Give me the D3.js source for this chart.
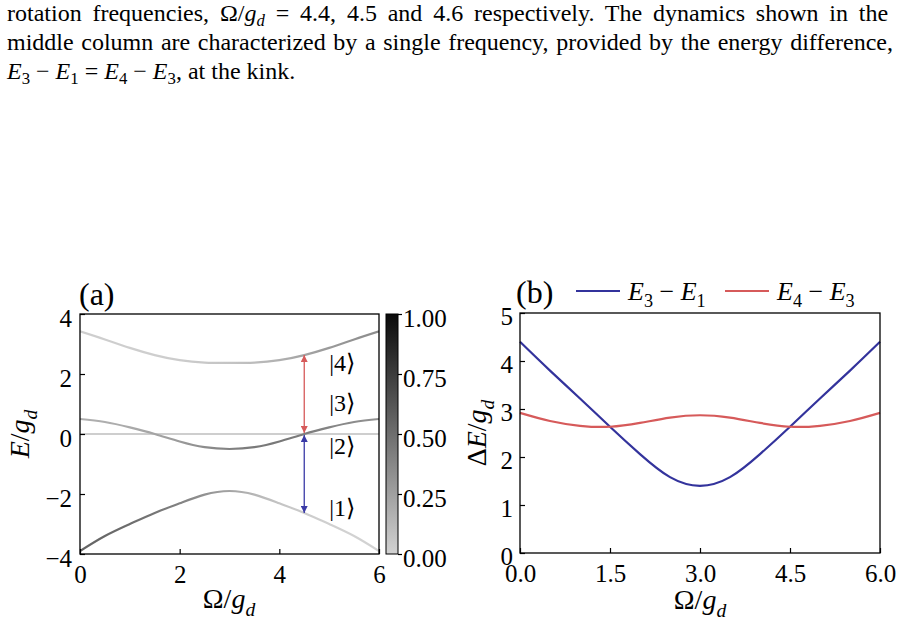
<!DOCTYPE html>
<html>
<head>
<meta charset="utf-8">
<script src="https://cdn.jsdelivr.net/npm/d3@7"></script>
<style>
    body { margin: 0; background: #fff; }
    svg text { font-family: "Liberation Serif", "DejaVu Serif", serif; fill: #000; }
    .tick text { font-size: 25px; }
    .tick line { stroke: #000; stroke-width: 1.2px; }
</style>
</head>
<body>
<svg id="figure" width="902" height="625"></svg>
<script>
const omega = [0, 0.5, 1, 1.5, 2, 2.5, 3, 3.5, 4, 4.5, 5, 5.5, 6];

const energy1 = [-3.90, -3.40, -3.00, -2.63, -2.31, -2.02, -1.90, -2.02, -2.31, -2.63, -3.00, -3.40, -3.90];
const energy2 = [0, 0, 0, 0, 0, 0, 0, 0, 0, 0, 0, 0, 0];
const energy3 = [0.50, 0.40, 0.22, 0.00, -0.25, -0.44, -0.50, -0.44, -0.25, 0.00, 0.22, 0.40, 0.50];
const energy4 = [3.42, 3.15, 2.87, 2.63, 2.46, 2.38, 2.37, 2.38, 2.46, 2.63, 2.87, 3.15, 3.42];

// grey level of each curve (colorbar value)
const weight1 = [0.55, 0.53, 0.50, 0.46, 0.40, 0.32, 0.23, 0.14, 0.07, 0.03, 0.01, 0.00, 0.00];
const weight2 = [0.02, 0.02, 0.02, 0.02, 0.02, 0.02, 0.02, 0.02, 0.02, 0.02, 0.02, 0.02, 0.02];
const weight3 = [0.18, 0.18, 0.20, 0.23, 0.28, 0.35, 0.40, 0.44, 0.45, 0.43, 0.39, 0.35, 0.32];
const weight4 = [0.02, 0.02, 0.02, 0.02, 0.03, 0.05, 0.07, 0.11, 0.17, 0.23, 0.28, 0.32, 0.35];

// energy gaps, panel (b)
const gap31 = [4.40, 3.80, 3.22, 2.63, 2.06, 1.58, 1.40, 1.58, 2.06, 2.63, 3.22, 3.80, 4.40];
const gap43 = [2.92, 2.75, 2.65, 2.63, 2.71, 2.82, 2.87, 2.82, 2.71, 2.63, 2.65, 2.75, 2.92];

// ticks
const energyTicks = [-4, -2, 0, 2, 4];
const omegaTicksA = [0, 2, 4, 6];
const omegaTicksB = [0, 1.5, 3, 4.5, 6];
const gapTicks = [0, 1, 2, 3, 4, 5];
const colorbarTicks = [0, 0.25, 0.5, 0.75, 1];

// annotations in panel (a)
const arrowIndex = 9; // Omega = 4.5
const stateNames = ["1", "2", "3", "4"];
const stateLabelE = [-2.74, -0.68, 0.76, 2.09];
const stateLabelOmega = 5.0;

// text made of pieces: [text, style], style n = normal, i = italic, s = subscript, si = italic subscript
function richText(sel, parts, size, subShift = 0.28) {
    let shift = 0;
    parts.forEach(([t, s]) => {
        const sub = s === "s" || s === "si";
        const target = sub ? size * subShift : 0;
        sel.append("tspan")
            .attr("dy", target - shift)
            .attr("font-size", sub ? size * 0.7 : size)
            .attr("font-style", (s === "i" || s === "si") ? "italic" : "normal")
            .text(t);
        shift = target;
    });
    return sel;
}

const omegaLabel = [["Ω/", "n"], ["g", "i"], ["d", "si"]];

class EnergyLevelsVis {

    constructor(svg) {
        this.svg = svg;
        this.initVis();
    }

    initVis() {
        let vis = this;

        vis.left = 80; vis.right = 379; vis.top = 314; vis.bottom = 554;

        vis.x = d3.scaleLinear().domain([0, 6]).range([vis.left, vis.right]);
        vis.y = d3.scaleLinear().domain([-4, 4]).range([vis.bottom, vis.top]);
        vis.color = d3.scaleLinear().domain([0, 1]).range(["#d2d2d2", "#0a0a0a"]);

        vis.defs = vis.svg.append("defs");
        vis.defs.append("clipPath").attr("id", "clip-a")
            .append("rect")
            .attr("x", vis.left).attr("y", vis.top)
            .attr("width", vis.right - vis.left).attr("height", vis.bottom - vis.top);

        vis.levels = [
            { id: "e1", energy: energy1, weight: weight1 },
            { id: "e2", energy: energy2, weight: weight2 },
            { id: "e3", energy: energy3, weight: weight3 },
            { id: "e4", energy: energy4, weight: weight4 }
        ];

        vis.updateVis();
    }

    updateVis() {
        let vis = this;

        // horizontal gradient per level, one stop per sample
        vis.levels.forEach(lv => {
            let grad = vis.defs.append("linearGradient")
                .attr("id", "grad-" + lv.id)
                .attr("gradientUnits", "userSpaceOnUse")
                .attr("x1", vis.x(0)).attr("x2", vis.x(6))
                .attr("y1", 0).attr("y2", 0);
            grad.selectAll("stop")
                .data(lv.weight)
                .enter().append("stop")
                .attr("offset", (d, i) => (vis.x(omega[i]) - vis.x(0)) / (vis.x(6) - vis.x(0)))
                .attr("stop-color", d => vis.color(d));
        });

        let line = d3.line()
            .x((d, i) => vis.x(omega[i]))
            .y(d => vis.y(d))
            .curve(d3.curveNatural);

        vis.svg.append("g")
            .attr("clip-path", "url(#clip-a)")
            .selectAll(".level")
            .data(vis.levels)
            .enter().append("path")
            .attr("class", "level")
            .attr("d", d => line(d.energy))
            .attr("fill", "none")
            .attr("stroke", d => `url(#grad-${d.id})`)
            .attr("stroke-width", 2.2);

        // transition arrows at Omega = 4.5
        vis.makeArrowhead("head-red", "#d65a5a");
        vis.makeArrowhead("head-blue", "#3a3aa6");

        let xa = vis.x(omega[arrowIndex]);
        let arrows = [
            { from: energy3[arrowIndex], to: energy4[arrowIndex], color: "#d65a5a", head: "head-red" },
            { from: energy3[arrowIndex], to: energy1[arrowIndex], color: "#3a3aa6", head: "head-blue" }
        ];
        vis.svg.selectAll(".arrow")
            .data(arrows)
            .enter().append("line")
            .attr("class", "arrow")
            .attr("x1", xa).attr("x2", xa)
            .attr("y1", d => vis.y(d.from) + (d.to > d.from ? -1 : 1))
            .attr("y2", d => vis.y(d.to))
            .attr("stroke", d => d.color)
            .attr("stroke-width", 1.3)
            .attr("marker-start", d => `url(#${d.head})`)
            .attr("marker-end", d => `url(#${d.head})`);

        // state labels
        vis.svg.selectAll(".state")
            .data(stateNames)
            .enter().append("text")
            .attr("class", "state")
            .attr("x", vis.x(stateLabelOmega))
            .attr("y", (d, i) => vis.y(stateLabelE[i]))
            .style("font-size", "24px")
            .text(d => `|${d}⟩`);

        // axes, ticks pointing inward
        vis.svg.append("g")
            .attr("transform", `translate(0,${vis.bottom})`)
            .call(d3.axisBottom(vis.x).tickValues(omegaTicksA).tickFormat(d3.format("d"))
                .tickSizeInner(-5).tickSizeOuter(0).tickPadding(11))
            .call(g => g.select(".domain").remove());

        vis.svg.append("g")
            .attr("transform", `translate(${vis.left},0)`)
            .call(d3.axisLeft(vis.y).tickValues(energyTicks).tickFormat(d3.format("d"))
                .tickSizeInner(-5).tickSizeOuter(0).tickPadding(8))
            .call(g => g.select(".domain").remove())
            .call(g => g.selectAll(".tick text").attr("dy", "0.5em"));

        vis.svg.append("rect")
            .attr("x", vis.left).attr("y", vis.top)
            .attr("width", vis.right - vis.left).attr("height", vis.bottom - vis.top)
            .attr("fill", "none").attr("stroke", "#000").attr("stroke-width", 1.3);

        // colorbar
        let cbLeft = 386, cbRight = 398;
        let cbScale = d3.scaleLinear().domain([0, 1]).range([vis.bottom, vis.top]);
        let cbGrad = vis.defs.append("linearGradient")
            .attr("id", "grad-cb")
            .attr("x1", 0).attr("y1", 1).attr("x2", 0).attr("y2", 0);
        cbGrad.selectAll("stop")
            .data(colorbarTicks)
            .enter().append("stop")
            .attr("offset", d => d)
            .attr("stop-color", d => vis.color(d));

        vis.svg.append("rect")
            .attr("x", cbLeft).attr("y", vis.top)
            .attr("width", cbRight - cbLeft).attr("height", vis.bottom - vis.top)
            .attr("fill", "url(#grad-cb)")
            .attr("stroke", "#000").attr("stroke-width", 1);

        vis.svg.append("g")
            .attr("transform", `translate(${cbRight},0)`)
            .call(d3.axisRight(cbScale).tickValues(colorbarTicks).tickFormat(d3.format(".2f"))
                .tickSize(4).tickPadding(1))
            .call(g => g.select(".domain").remove())
            .call(g => g.selectAll(".tick text").attr("dy", "0.5em"));

        // labels
        vis.svg.append("text")
            .attr("x", vis.left - 1).attr("y", 305)
            .style("font-size", "32px")
            .text("(a)");

        richText(vis.svg.append("text")
            .attr("text-anchor", "middle")
            .attr("transform", `translate(229,608)`), omegaLabel, 28);

        richText(vis.svg.append("text")
            .attr("text-anchor", "middle")
            .attr("transform", `translate(29,${(vis.top + vis.bottom) / 2}) rotate(-90)`),
            [["E", "i"], ["/", "n"], ["g", "i"], ["d", "si"]], 28);
    }

    makeArrowhead(id, color) {
        this.defs.append("marker")
            .attr("id", id)
            .attr("viewBox", "0 0 10 10")
            .attr("refX", 10).attr("refY", 5)
            .attr("markerUnits", "userSpaceOnUse")
            .attr("markerWidth", 7).attr("markerHeight", 7)
            .attr("orient", "auto-start-reverse")
            .append("path")
            .attr("d", "M0,0 L10,5 L0,10 Z")
            .attr("fill", color);
    }
}

class GapVis {

    constructor(svg) {
        this.svg = svg;
        this.initVis();
    }

    initVis() {
        let vis = this;

        vis.left = 520; vis.right = 880; vis.top = 313; vis.bottom = 553;

        vis.x = d3.scaleLinear().domain([0, 6]).range([vis.left, vis.right]);
        vis.y = d3.scaleLinear().domain([0, 5]).range([vis.bottom, vis.top]);

        vis.series = [
            { values: gap31, color: "#33339c", label: [["E", "i"], ["3", "s"], [" − ", "n"], ["E", "i"], ["1", "s"]] },
            { values: gap43, color: "#d65a5a", label: [["E", "i"], ["4", "s"], [" − ", "n"], ["E", "i"], ["3", "s"]] }
        ];

        vis.updateVis();
    }

    updateVis() {
        let vis = this;

        let line = d3.line()
            .x((d, i) => vis.x(omega[i]))
            .y(d => vis.y(d))
            .curve(d3.curveNatural);

        vis.svg.selectAll(".gap")
            .data(vis.series)
            .enter().append("path")
            .attr("class", "gap")
            .attr("d", d => line(d.values))
            .attr("fill", "none")
            .attr("stroke", d => d.color)
            .attr("stroke-width", 2.2);

        vis.svg.append("g")
            .attr("transform", `translate(0,${vis.bottom})`)
            .call(d3.axisBottom(vis.x).tickValues(omegaTicksB).tickFormat(d3.format(".1f"))
                .tickSizeInner(-5).tickSizeOuter(0).tickPadding(11))
            .call(g => g.select(".domain").remove());

        vis.svg.append("g")
            .attr("transform", `translate(${vis.left},0)`)
            .call(d3.axisLeft(vis.y).tickValues(gapTicks).tickFormat(d3.format("d"))
                .tickSizeInner(-5).tickSizeOuter(0).tickPadding(7))
            .call(g => g.select(".domain").remove())
            .call(g => g.selectAll(".tick text").attr("dy", "0.45em"));

        vis.svg.append("rect")
            .attr("x", vis.left).attr("y", vis.top)
            .attr("width", vis.right - vis.left).attr("height", vis.bottom - vis.top)
            .attr("fill", "none").attr("stroke", "#000").attr("stroke-width", 1.3);

        // legend above the axes
        let legendX = [576, 725];
        vis.series.forEach((s, i) => {
            vis.svg.append("line")
                .attr("x1", legendX[i]).attr("x2", legendX[i] + 44)
                .attr("y1", 291).attr("y2", 291)
                .attr("stroke", s.color).attr("stroke-width", 2.2);
            richText(vis.svg.append("text")
                .attr("x", legendX[i] + 52).attr("y", 300), s.label, 26);
        });

        vis.svg.append("text")
            .attr("x", 516).attr("y", 303)
            .style("font-size", "32px")
            .text("(b)");

        richText(vis.svg.append("text")
            .attr("text-anchor", "middle")
            .attr("transform", `translate(${(vis.left + vis.right) / 2},609)`), omegaLabel, 28);

        richText(vis.svg.append("text")
            .attr("text-anchor", "middle")
            .attr("transform", `translate(486,${(vis.top + vis.bottom) / 2}) rotate(-90)`),
            [["Δ", "n"], ["E", "i"], ["/", "n"], ["g", "i"], ["d", "si"]], 28);
    }
}

// caption text above the figure
const paragraphLines = [
    [["rotation frequencies, Ω/", "n"], ["g", "i"], ["d", "si"], [" = 4.4, 4.5 and 4.6 respectively.  The dynamics shown in the", "n"]],
    [["middle column are characterized by a single frequency, provided by the energy difference,", "n"]],
    [["E", "i"], ["3", "s"], [" − ", "n"], ["E", "i"], ["1", "s"], [" = ", "n"], ["E", "i"], ["4", "s"], [" − ", "n"], ["E", "i"], ["3", "s"], [", at the kink.", "n"]]
];
const paragraphBaselines = [21, 50, 79];

function drawParagraph(svg) {
    let textLeft = 7, textRight = 893;
    paragraphLines.forEach((parts, i) => {
        let t = svg.append("text")
            .attr("x", textLeft).attr("y", paragraphBaselines[i]);
        richText(t, parts, 24, 0.22);
        // justify all but the last line by stretching word spaces
        if (i < paragraphLines.length - 1) {
            let natural = t.node().getComputedTextLength();
            let spaces = parts.map(p => p[0]).join("").split(" ").length - 1;
            t.attr("word-spacing", ((textRight - textLeft) - natural) / spaces);
        }
    });
}

const svg = d3.select("#figure");
drawParagraph(svg);
new EnergyLevelsVis(svg);
new GapVis(svg);
</script>
</body>
</html>
